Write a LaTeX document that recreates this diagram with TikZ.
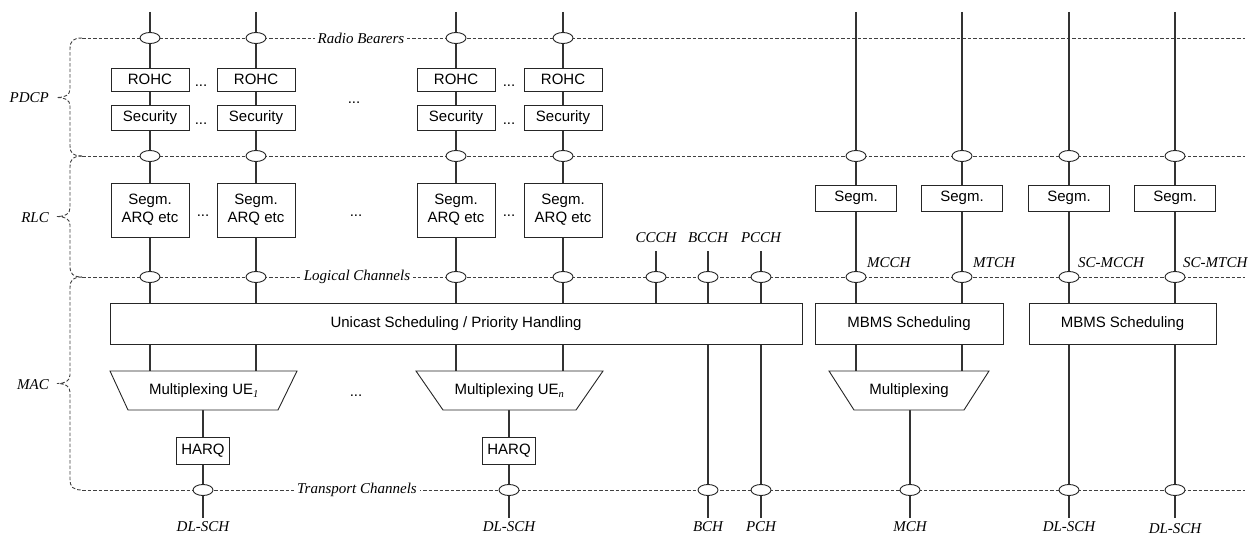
\documentclass[tikz,border=0pt]{standalone}
\usepackage{fontspec}
\setmainfont{Liberation Sans}
\newfontfamily\serifit{Liberation Serif}
\usetikzlibrary{shapes.geometric}
\pgfdeclarelayer{bg}
\pgfsetlayers{bg,main}
\begin{document}
\begin{tikzpicture}[x=1pt,y=-1pt,
  box/.style={draw=black!85, line width=0.9pt, fill=white, inner sep=0pt, align=center, font=\fontsize{15}{18}\selectfont},
  trap/.style={draw=black!85, line width=0.9pt, fill=white},
  txt/.style={inner sep=0pt, font=\fontsize{15}{18}\selectfont},
  lbl/.style={inner sep=0pt, font=\fontsize{15}{18}\selectfont\serifit\itshape},
  gaplbl/.style={lbl, fill=white, inner xsep=3pt, inner ysep=1pt},
  chan/.style={draw=black!80, line width=1.3pt},
  dline/.style={draw=black!75, line width=0.9pt, dash pattern=on 3.5pt off 2pt},
  sap/.style={ellipse, draw=black!85, line width=0.9pt, fill=white, minimum width=20pt, minimum height=11pt, inner sep=0pt},
  dotsn/.style={inner sep=0pt, anchor=base, font=\fontsize{15}{18}\selectfont}
]
\useasboundingbox (0,0) rectangle (1250,535);

% reference coordinates
\coordinate (mt) at (0,371);
\foreach \n/\y in {rb/38,pr/156,lc/277,tr/490}{
  \coordinate (\n L) at (82,\y);
  \coordinate (\n R) at (1245,\y);
}

% unicast columns
\foreach \i/\x in {1/150,2/256,3/456,4/563}{
  \coordinate (t\i) at (\x,12);
  \node[box,minimum width=78,minimum height=23] (rohc\i) at (\x,79.5) {ROHC};
  \node[box,minimum width=78,minimum height=25] (sec\i) at (\x,117.5) {Security};
  \node[box,minimum width=78,minimum height=54] (seg\i) at (\x,210) {Segm.\\ARQ etc};
  \node[sap] (rb\i) at (\x,38) {};
  \node[sap] (pr\i) at (\x,156) {};
  \node[sap] (lc\i) at (\x,277) {};
}
% MBMS / SC-PTM columns
\foreach \i/\x in {5/856,6/962,7/1069,8/1175}{
  \coordinate (t\i) at (\x,12);
  \node[box,minimum width=81,minimum height=26] (sg\i) at (\x,198) {Segm.};
  \node[sap] (pr\i) at (\x,156) {};
  \node[sap] (lc\i) at (\x,277) {};
}
% common control channels
\foreach \n/\x in {cc/656,bc/708,pc/761}{
  \coordinate (\n) at (\x,251);
  \node[sap] (lc\n) at (\x,277) {};
}
\node[lbl] (lccch) at (656,238) {CCCH};
\node[lbl] (lbcch) at (708,238) {BCCH};
\node[lbl] (lpcch) at (761,238) {PCCH};
\node[lbl,anchor=west] (lmcch) at (867,263) {MCCH};
\node[lbl,anchor=west] (lmtch) at (973,263) {MTCH};
\node[lbl,anchor=west] (lscm) at (1078,263) {SC-MCCH};
\node[lbl,anchor=west] (lsct) at (1183,263) {SC-MTCH};

% schedulers
\node[box,minimum width=692,minimum height=41] (uni) at (456,323.5) {Unicast Scheduling / Priority Handling};
\node[box,minimum width=188,minimum height=41] (mbms1) at (909,323.5) {MBMS Scheduling};
\node[box,minimum width=187,minimum height=41] (mbms2) at (1122.5,323.5) {MBMS Scheduling};

% multiplexers
\draw[trap] (110,371) -- (297,371) -- (278,410) -- (128,410) -- cycle;
\node[txt] (mx1) at (204,391) {Multiplexing UE\textsubscript{\serifit\itshape 1}};
\draw[trap] (416,371) -- (603,371) -- (576,410) -- (443,410) -- cycle;
\node[txt] (mx2) at (509.5,391) {Multiplexing UE\textsubscript{\serifit\itshape n}};
\draw[trap] (829,371) -- (989,371) -- (964,410) -- (854,410) -- cycle;
\node[txt] (mx3) at (909,391) {Multiplexing};
\coordinate (mb1) at (203,410);
\coordinate (mb2) at (509,410);
\coordinate (mb3) at (910,410);

% HARQ
\node[box,minimum width=53,minimum height=27] (harq1) at (203,450.5) {HARQ};
\node[box,minimum width=53,minimum height=27] (harq2) at (509,450.5) {HARQ};

% transport SAPs and bottom ends
\foreach \i/\x in {1/203,2/509,3/708,4/761,5/910,6/1069,7/1175}{
  \node[sap] (tr\i) at (\x,490) {};
  \coordinate (b\i) at (\x,518);
}

% bottom labels
\node[lbl] (ldl1) at (203,527) {DL-SCH};
\node[lbl] (ldl2) at (509,527) {DL-SCH};
\node[lbl] (lbch) at (708,527) {BCH};
\node[lbl] (lpch) at (761,527) {PCH};
\node[lbl] (lmch) at (910,527) {MCH};
\node[lbl] (ldl3) at (1069,527) {DL-SCH};
\node[lbl] (ldl4) at (1175,529) {DL-SCH};

% layer labels on the dashed lines
\node[gaplbl] (lrb) at (361,38) {Radio Bearers};
\node[gaplbl] (llc) at (357,277) {Logical Channels};
\node[gaplbl] (ltr) at (357,490) {Transport Channels};

% protocol layer names
\node[lbl,anchor=east] (lpdcp) at (49,98) {PDCP};
\node[lbl,anchor=east] (lrlc) at (49,218) {RLC};
\node[lbl,anchor=east] (lmac) at (49,385) {MAC};

% dots
\node[dotsn] (d1) at (201,86) {...};
\node[dotsn] (d2) at (201,124) {...};
\node[dotsn] (d3) at (509,86) {...};
\node[dotsn] (d4) at (509,124) {...};
\node[dotsn] (d5) at (354,103) {...};
\node[dotsn] (d6) at (203,216) {...};
\node[dotsn] (d7) at (509,216) {...};
\node[dotsn] (d8) at (356,216) {...};
\node[dotsn] (d9) at (356,396) {...};

\begin{pgfonlayer}{bg}
  % dashed horizontal lines
  \foreach \n in {rb,pr,lc,tr}{ \draw[dline] (\n L) -- (\n R); }
  % braces
  \draw[dline] (rbL) .. controls (73,38) and (70,41) .. (70,49) -- (70,89)
     .. controls (70,95) and (65,97.5) .. (57,97.5) .. controls (65,97.5) and (70,100) .. (70,106)
     -- (70,146) .. controls (70,153) and (73,156) .. (prL);
  \draw[dline] (prL) .. controls (73,156) and (70,159) .. (70,167) -- (70,208)
     .. controls (70,214) and (65,216.5) .. (57,216.5) .. controls (65,216.5) and (70,219) .. (70,225)
     -- (70,266) .. controls (70,274) and (73,277) .. (lcL);
  \draw[dline] (lcL) .. controls (73,277) and (70,280) .. (70,288) -- (70,375)
     .. controls (70,381) and (65,383.5) .. (57,383.5) .. controls (65,383.5) and (70,386) .. (70,392)
     -- (70,479) .. controls (70,487) and (73,490) .. (trL);
  % unicast columns
  \foreach \i in {1,2,3,4}{
    \draw[chan] (t\i) -- (rohc\i) (rohc\i) -- (sec\i) (sec\i) -- (seg\i)
      (seg\i) -- (seg\i |- uni.north) (uni.south -| t\i) -- (t\i |- mt);
  }
  \draw[chan] (mb1) -- (harq1) (harq1) -- (b1);
  \draw[chan] (mb2) -- (harq2) (harq2) -- (b2);
  % common channels
  \draw[chan] (cc) -- (cc |- uni.north);
  \draw[chan] (bc) -- (bc |- uni.north) (uni.south -| bc) -- (b3);
  \draw[chan] (pc) -- (pc |- uni.north) (uni.south -| pc) -- (b4);
  % MBMS
  \foreach \i in {5,6}{
    \draw[chan] (t\i) -- (sg\i) (sg\i) -- (sg\i |- mbms1.north) (mbms1.south -| t\i) -- (t\i |- mt);
  }
  \draw[chan] (mb3) -- (b5);
  % SC-PTM
  \draw[chan] (t7) -- (sg7) (sg7) -- (sg7 |- mbms2.north) (mbms2.south -| t7) -- (b6);
  \draw[chan] (t8) -- (sg8) (sg8) -- (sg8 |- mbms2.north) (mbms2.south -| t8) -- (b7);
\end{pgfonlayer}
\end{tikzpicture}
\end{document}
